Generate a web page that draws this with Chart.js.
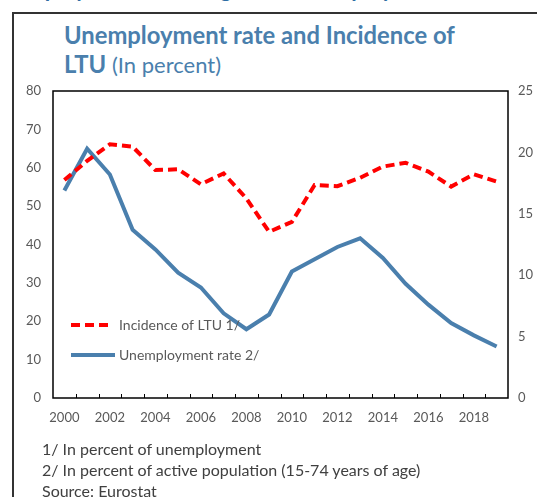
<!DOCTYPE html>
<html>
<head>
<meta charset="utf-8">
<script src="https://cdn.jsdelivr.net/npm/chart.js@4.4.1/dist/chart.umd.min.js"></script>
<style>
  html, body { margin: 0; padding: 0; background: #fff; }
  body { width: 537px; height: 497px; position: relative; overflow: hidden; font-family: Lato, "Open Sans", sans-serif; }
  #frame { position: absolute; left: 12px; top: 12px; width: 540px; height: 500px; border-left: 2px solid #333; border-top: 2px solid #333; }
  #above { position: absolute; left: 14px; top: -25px; font-size: 22px; font-weight: bold; color: #2e6da4; white-space: nowrap; }
  #title { position: absolute; left: 64px; top: 21px; color: #4a7fad; font-size: 23.8px; line-height: 29px; font-weight: bold; }
  #title span { font-weight: normal; font-size: 22px; }
  #notes { position: absolute; left: 42px; top: 438px; color: #404040; font-size: 16px; line-height: 21px; }
  #wrap { position: absolute; left: 0; top: 0; width: 537px; height: 497px; }
</style>
</head>
<body>
<div id="above">Employment and Long-Term Unemployment</div>
<div id="frame"></div>
<div id="title">Unemployment rate and Incidence of<br>LTU <span>(In percent)</span></div>
<div id="wrap"><canvas id="chart"></canvas></div>
<div id="notes">1/ In percent of unemployment<br>2/ In percent of active population (15-74 years of age)<br>Source: Eurostat</div>
<script>
// data
const years = ['2000','2001','2002','2003','2004','2005','2006','2007','2008','2009',
               '2010','2011','2012','2013','2014','2015','2016','2017','2018','2019'];
// left axis
const ltuIncidence = [56.8, 61.8, 66.1, 65.5, 59.4, 59.6, 55.7, 58.5, 52.0, 43.3,
                      45.9, 55.5, 55.2, 57.4, 60.3, 61.3, 59.0, 55.1, 58.3, 56.4];
// right axis
const unemploymentRate = [16.9, 20.3, 18.2, 13.7, 12.1, 10.2, 9.0, 6.9, 5.6, 6.8,
                          10.3, 11.3, 12.3, 13.0, 11.4, 9.3, 7.6, 6.1, 5.1, 4.2];
const leftTicks = [0, 10, 20, 30, 40, 50, 60, 70, 80];
const rightTicks = [0, 5, 10, 15, 20, 25];
const seriesNames = ['Incidence of LTU 1/', 'Unemployment rate 2/'];

const RED = '#ff0000';
const BLUE = '#4a7fad';
const GREY = '#595959';

// box round the plot + little x ticks pointing inward
const boxPlugin = {
  id: 'box',
  afterDatasetsDraw(chart) {
    const { ctx, chartArea: a, scales } = chart;
    ctx.save();
    ctx.strokeStyle = '#000';
    ctx.lineWidth = 1.5;
    ctx.strokeRect(a.left, a.top, a.right - a.left, a.bottom - a.top);
    ctx.lineWidth = 1;
    const x = scales.x;
    for (let i = 1; i < years.length; i++) {
      const px = Math.round((x.getPixelForValue(i - 1) + x.getPixelForValue(i)) / 2) + 0.5;
      ctx.beginPath();
      ctx.moveTo(px, a.bottom);
      ctx.lineTo(px, a.bottom - 4);
      ctx.stroke();
    }
    ctx.restore();
  }
};

// legend drawn inside the plot, lower left
const legendPlugin = {
  id: 'innerLegend',
  afterDraw(chart) {
    const { ctx, chartArea: a } = chart;
    const rows = [
      { ds: chart.data.datasets[0], y: a.bottom - 73, len: 38 },
      { ds: chart.data.datasets[1], y: a.bottom - 43, len: 44 }
    ];
    ctx.save();
    rows.forEach(r => {
      const x0 = a.left + 18;
      ctx.strokeStyle = r.ds.borderColor;
      ctx.lineWidth = r.ds.borderWidth;
      ctx.setLineDash(r.ds.borderDash || []);
      ctx.beginPath();
      ctx.moveTo(x0, r.y);
      ctx.lineTo(x0 + r.len, r.y);
      ctx.stroke();
      ctx.setLineDash([]);
      ctx.fillStyle = GREY;
      ctx.font = '14px Lato';
      ctx.textBaseline = 'middle';
      ctx.fillText(r.ds.label, a.left + 66, r.y);
    });
    ctx.restore();
  }
};

new Chart(document.getElementById('chart'), {
  type: 'line',
  data: {
    labels: years,
    datasets: [
      {
        label: seriesNames[0],
        data: ltuIncidence,
        yAxisID: 'y',
        borderColor: RED,
        borderWidth: 4,
        borderDash: [9, 5],
        borderCapStyle: 'butt',
        pointRadius: 0,
        tension: 0,
        fill: false
      },
      {
        label: seriesNames[1],
        data: unemploymentRate,
        yAxisID: 'y1',
        borderColor: BLUE,
        borderWidth: 4,
        pointRadius: 0,
        tension: 0,
        fill: false
      }
    ]
  },
  options: {
    responsive: true,
    maintainAspectRatio: false,
    animation: false,
    layout: { padding: { top: 91, left: 0, right: 0, bottom: 0 } },
    plugins: { legend: { display: false }, tooltip: { enabled: false } },
    scales: {
      x: {
        offset: true,
        grid: { display: false, drawTicks: false },
        border: { display: false },
        afterFit(s) { s.height = 99; },
        ticks: {
          autoSkip: false,
          maxRotation: 0,
          padding: 12,
          color: GREY,
          font: { family: 'Lato', size: 13 },
          callback(v, i) { return i % 2 === 0 ? years[i] : ''; }
        }
      },
      y: {
        position: 'left',
        min: leftTicks[0],
        max: leftTicks[leftTicks.length - 1],
        grid: { display: false, drawTicks: false },
        border: { display: false },
        afterFit(s) { s.width = 53; },
        afterBuildTicks(s) { s.ticks = leftTicks.map(v => ({ value: v })); },
        ticks: { padding: 12, color: GREY, font: { family: 'Lato', size: 13 } }
      },
      y1: {
        position: 'right',
        min: rightTicks[0],
        max: rightTicks[rightTicks.length - 1],
        grid: { display: false, drawTicks: false },
        border: { display: false },
        afterFit(s) { s.width = 29; },
        afterBuildTicks(s) { s.ticks = rightTicks.map(v => ({ value: v })); },
        ticks: { padding: 10, color: GREY, font: { family: 'Lato', size: 13 } }
      }
    }
  },
  plugins: [boxPlugin, legendPlugin]
});
</script>
</body>
</html>
